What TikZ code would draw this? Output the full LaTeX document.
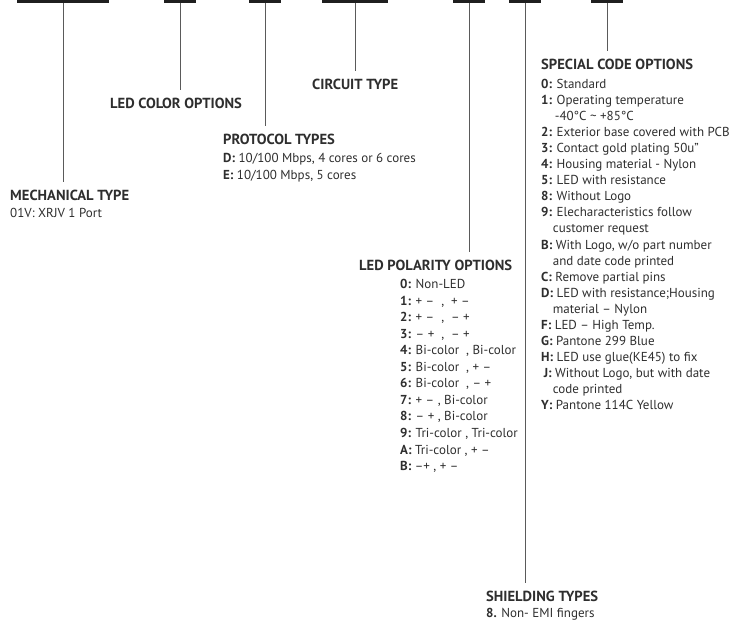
\documentclass[tikz,border=0pt]{standalone}
\usepackage{fontspec}
\setmainfont{PT Sans}
\definecolor{txt}{HTML}{2E2E2E}
\definecolor{ln}{HTML}{5A5A5A}
\begin{document}
\begin{tikzpicture}[x=1pt,y=-1pt,
  bar/.style={fill=black!88, draw=none, minimum height=2.5pt, inner sep=0pt, minimum width=#1, anchor=north},
  conn/.style={draw=ln, line width=0.9pt},
  head/.style={font=\fontsize{14.6}{16}\selectfont\bfseries, text=txt, inner sep=0pt, anchor=base west},
  body/.style={font=\fontsize{13}{15}\selectfont, text=txt, inner sep=0pt, anchor=base west}]
\useasboundingbox (0,0) rectangle (730,622);
% bars
\node[bar=92] (b1) at (63,0) {};
\node[bar=32] (b2) at (180,0) {};
\node[bar=32] (b3) at (265,0) {};
\node[bar=66] (b4) at (355,0) {};
\node[bar=32] (b5) at (469,0) {};
\node[bar=32] (b6) at (525,0) {};
\node[bar=32] (b7) at (607,0) {};
% headings
\node[head] (mech) at (10,200) {MECHANICAL TYPE};
\node[head] (color) at (110,108) {LED COLOR OPTIONS};
\node[head] (proto) at (223,144) {PROTOCOL TYPES};
\node[head] (circ) at (312,89) {CIRCUIT TYPE};
\node[head] (pol) at (359,270) {LED POLARITY OPTIONS};
\node[head] (shield) at (486,601) {SHIELDING TYPES};
\node[head] (spec) at (541,69) {SPECIAL CODE OPTIONS};
% bodies
\node[body] (mechb) at (10,217.5) {01V: XRJV 1 Port};
\node[body] (protoD) at (223,162.5) {\textbf{D:} 10/100 Mbps, 4 cores or 6 cores};
\node[body] (protoE) at (223,179.5) {\textbf{E:} 10/100 Mbps, 5 cores};
\foreach \t [count=\i from 0] in {
 {\textbf{0:} Non-LED},
 {\textbf{1:} + –\ \ , \ + –},
 {\textbf{2:} + –\ \ , \ – +},
 {\textbf{3:} – +\ \ , \ – +},
 {\textbf{4:} Bi-color\ \ , Bi-color},
 {\textbf{5:} Bi-color\ \ , + –},
 {\textbf{6:} Bi-color\ \ , – +},
 {\textbf{7:} + – , Bi-color},
 {\textbf{8:} – + , Bi-color},
 {\textbf{9:} Tri-color , Tri-color},
 {\textbf{A:} Tri-color , + –},
 {\textbf{B:} –+ , + –}}
 \node[body] (p\i) at (400,288.5+16.55*\i) {\t};
\foreach \t [count=\i from 0] in {
 {\textbf{0:} Standard},
 {\textbf{1:} Operating temperature},
 {\hspace*{1.05em}-40°C \textasciitilde\ +85°C},
 {\textbf{2:} Exterior base covered with PCB},
 {\textbf{3:} Contact gold plating 50u"},
 {\textbf{4:} Housing material - Nylon},
 {\textbf{5:} LED with resistance},
 {\textbf{8:} Without Logo},
 {\textbf{9:} Elecharacteristics follow},
 {\hspace*{0.9em}customer request},
 {\textbf{B:} With Logo, w/o part number},
 {\hspace*{0.9em}and date code printed},
 {\textbf{C:} Remove partial pins},
 {\textbf{D:} LED with resistance;Housing},
 {\hspace*{0.9em}material – Nylon},
 {\textbf{F:} LED – High Temp.},
 {\textbf{G:} Pantone 299 Blue},
 {\textbf{H:} LED use glue(KE45) to fix},
 {\hspace*{0.2em}\textbf{J:} Without Logo, but with date},
 {\hspace*{0.9em}code printed},
 {\textbf{Y:} Pantone 114C Yellow}}
 \node[body] (s\i) at (541,88.5+16.05*\i) {\t};
\node[body] (shieldb) at (486,617.5) {\textbf{8.} Non- EMI fingers};
% connectors
\draw[conn] (b1.south) -- ([yshift=7pt]b1.south |- mech.north);
\draw[conn] (b2.south) -- ([yshift=7pt]b2.south |- color.north);
\draw[conn] (b3.south) -- ([yshift=7pt]b3.south |- proto.north);
\draw[conn] (b4.south) -- ([yshift=7pt]b4.south |- circ.north);
\draw[conn] (b5.south) -- ([yshift=7pt]b5.south |- pol.north);
\draw[conn] (b6.south) -- ([yshift=7pt]b6.south |- shield.north);
\draw[conn] (b7.south) -- ([yshift=7pt]b7.south |- spec.north);
\end{tikzpicture}
\end{document}
